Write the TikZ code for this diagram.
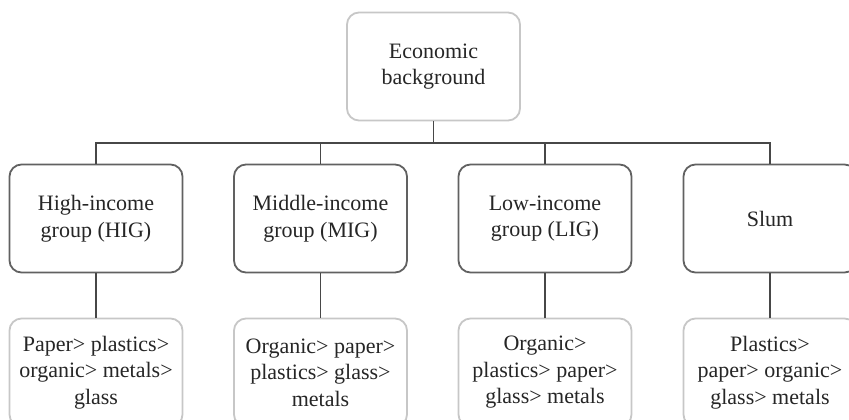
\documentclass[tikz,border=0pt]{standalone}
\usepackage{fontspec}
\setmainfont{Liberation Serif}
\begin{document}
\begin{tikzpicture}[x=1pt,y=-1pt,
  box/.style={rectangle, rounded corners=12pt, line width=1.8pt,
    minimum width=173pt, minimum height=108pt, align=center,
    inner sep=2pt, text=black!85,
    font=\fontsize{22}{26.5}\selectfont},
  litebox/.style={box, draw=black!22},
  darkbox/.style={box, draw=black!62},
  link/.style={draw=black!72, line width=1.4pt}]
\useasboundingbox (0,0) rectangle (849,420);
\fill[white] (0,0) rectangle (849,420);

% root
\node[litebox] (root) at (433.5,66.5) {Economic\\background};

% income groups
\node[darkbox] (hig)  at (96,218.5)  {High-income\\group (HIG)};
\node[darkbox] (mig)  at (320.5,218.5) {Middle-income\\group (MIG)};
\node[darkbox] (lig)  at (545,218.5) {Low-income\\group (LIG)};
\node[darkbox] (slum) at (770,218.5) {Slum};

% waste composition
\node[litebox] (whig)  at (96,372.5)  {Paper> plastics>\\organic> metals>\\glass};
\node[litebox] (wmig)  at (320.5,372.5) {Organic> paper>\\plastics> glass>\\metals};
\node[litebox] (wlig)  at (545,372.5) {Organic>\\plastics> paper>\\glass> metals};
\node[litebox] (wslum) at (770,372.5) {Plastics>\\paper> organic>\\glass> metals};

% tree connectors
\coordinate (bus) at (433.5,143);
\draw[link] (root.south) -- (bus);
\draw[link] (hig.north) |- (bus) -| (slum.north);
\draw[link] (mig.north) -- (mig.north |- bus);
\draw[link] (lig.north) -- (lig.north |- bus);

\draw[link] (hig.south) -- (whig.north);
\draw[link] (mig.south) -- (wmig.north);
\draw[link] (lig.south) -- (wlig.north);
\draw[link] (slum.south) -- (wslum.north);
\end{tikzpicture}
\end{document}
